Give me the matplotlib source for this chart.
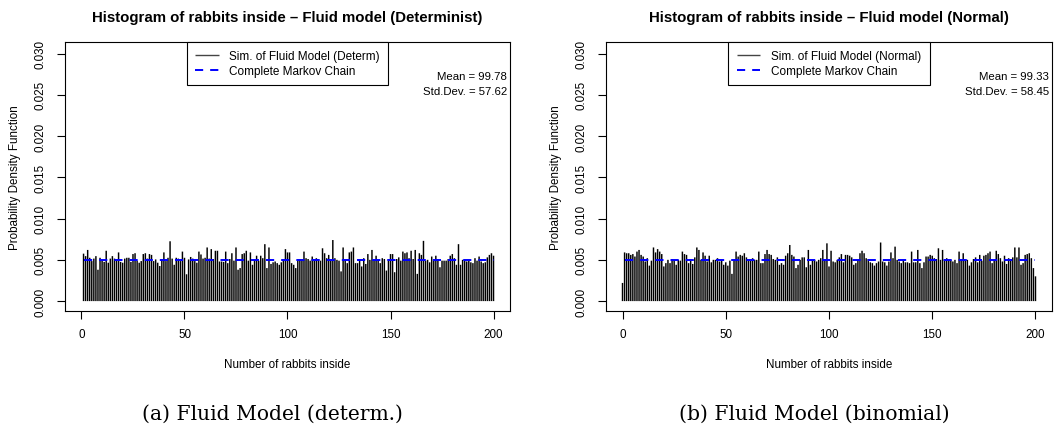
#!/usr/bin/env python3
"""Histogram of rabbits inside: fluid model vs complete Markov chain (two panels)."""

import matplotlib

matplotlib.use("Agg")
import matplotlib.pyplot as plt  # noqa: E402

# ---- data (probability density, in units of 1e-3) ----
RABBITS = list(range(0, 201))

DETERM_PDF = [
    0.0, 5.75, 5.45, 6.2, 5.25, 4.85, 5.15, 5.45, 3.8, 5.25,
    4.95, 4.75, 6.1, 4.65, 5.15, 5.45, 5.15, 5.05, 5.9, 4.75,
    4.65, 5.15, 5.25, 5.25, 4.75, 5.7, 5.8, 4.9, 4.65, 4.85,
    5.7, 5.8, 5.15, 5.7, 5.6, 4.85, 5.05, 4.65, 4.25, 5.05,
    5.9, 4.85, 5.25, 7.25, 5.15, 4.4, 5.25, 5.15, 4.85, 6.0,
    5.25, 3.25, 5.05, 5.35, 5.15, 4.85, 4.65, 6.0, 5.65, 5.15,
    5.25, 6.5, 5.15, 6.3, 5.1, 6.1, 6.1, 4.8, 4.8, 4.75,
    6.0, 4.6, 5.1, 5.8, 4.9, 6.5, 3.8, 4.0, 5.7, 5.8,
    6.1, 4.9, 5.9, 4.4, 5.0, 5.5, 4.9, 5.5, 5.2, 6.9,
    4.0, 6.5, 4.5, 4.7, 4.8, 4.6, 4.4, 4.7, 5.0, 6.3,
    5.9, 5.9, 4.6, 4.4, 4.0, 4.9, 5.0, 5.0, 6.0, 5.2,
    5.1, 4.9, 5.4, 4.9, 5.2, 5.1, 4.9, 6.4, 5.8, 5.2,
    5.6, 4.9, 7.4, 5.2, 5.0, 4.9, 3.6, 6.5, 5.0, 4.6,
    5.9, 6.0, 6.5, 4.6, 4.6, 5.0, 4.2, 5.2, 4.5, 5.7,
    5.0, 6.2, 5.0, 5.5, 5.0, 4.6, 5.2, 5.1, 3.7, 5.1,
    5.7, 5.7, 3.5, 5.1, 5.3, 4.9, 6.0, 5.8, 5.9, 5.2,
    6.1, 5.1, 6.2, 3.3, 5.8, 5.6, 7.3, 4.9, 5.0, 4.7,
    5.4, 4.9, 5.5, 5.1, 4.1, 4.9, 4.9, 4.9, 5.1, 5.5,
    5.7, 5.2, 4.4, 6.9, 4.4, 5.0, 5.0, 4.8, 4.9, 4.7,
    4.6, 5.2, 4.9, 5.4, 4.8, 4.6, 4.7, 5.3, 5.6, 5.8,
    5.5,
]

NORMAL_PDF = [
    2.2, 5.9, 5.8, 5.8, 5.6, 5.7, 5.4, 6.0, 6.2, 5.6,
    5.4, 4.8, 5.2, 4.3, 4.9, 6.5, 5.9, 6.3, 6.0, 5.7,
    4.2, 4.6, 5.0, 4.6, 5.1, 5.0, 4.4, 5.0, 4.9, 6.0,
    5.7, 5.6, 4.6, 4.9, 4.5, 5.3, 6.5, 6.2, 5.0, 5.9,
    5.5, 4.8, 5.5, 4.7, 5.0, 5.0, 5.2, 4.8, 5.0, 4.4,
    4.7, 4.3, 4.9, 3.3, 5.0, 6.0, 5.4, 5.6, 5.5, 5.8,
    5.3, 5.0, 4.9, 5.2, 5.0, 5.0, 6.0, 4.6, 4.6, 5.7,
    6.2, 5.7, 5.6, 5.1, 5.0, 5.3, 4.4, 4.6, 4.4, 5.5,
    5.8, 6.8, 5.6, 5.4, 4.0, 4.4, 5.0, 5.3, 5.3, 4.1,
    6.2, 4.4, 5.0, 5.0, 4.8, 5.0, 5.2, 6.2, 5.1, 7.0,
    4.2, 6.1, 4.8, 4.7, 5.0, 5.3, 5.7, 4.7, 5.6, 5.6,
    5.5, 5.3, 4.4, 4.6, 5.0, 5.8, 6.1, 5.8, 5.2, 5.1,
    4.7, 4.6, 4.3, 4.6, 4.8, 7.1, 4.8, 4.7, 4.3, 4.8,
    5.9, 5.2, 6.6, 5.0, 4.8, 4.6, 4.9, 4.7, 4.7, 4.6,
    6.0, 4.7, 4.7, 6.2, 4.6, 4.0, 4.7, 5.4, 5.4, 5.6,
    5.5, 5.2, 5.1, 6.4, 5.0, 6.2, 5.1, 5.2, 5.0, 5.0,
    4.8, 5.0, 4.6, 6.0, 5.0, 5.8, 5.0, 5.0, 4.3, 4.7,
    5.1, 5.3, 4.7, 5.6, 4.9, 5.5, 5.6, 5.8, 6.0, 4.6,
    5.0, 6.1, 5.7, 5.2, 4.8, 5.5, 4.5, 5.2, 5.1, 5.3,
    6.5, 5.3, 6.5, 4.4, 4.6, 5.6, 5.7, 5.8, 5.2, 4.0,
    3.0,
]

MARKOV_LEVEL = 4.975  # complete Markov chain, flat at ~1/201
MARKOV_RANGE = (1, 200)

TITLES = [
    "Histogram of rabbits inside \u2013 Fluid model (Determinist)",
    "Histogram of rabbits inside \u2013 Fluid model (Normal)",
]
SIM_LABELS = ["Sim. of Fluid Model (Determ)", "Sim. of Fluid Model (Normal)"]
MEANS = ["99.78", "99.33"]
STDS = ["57.62", "58.45"]
CAPTIONS = ["(a) Fluid Model (determ.)", "(b) Fluid Model (binomial)"]
X_TICKS = [0, 50, 100, 150, 200]
Y_TICKS = [0.000, 0.005, 0.010, 0.015, 0.020, 0.025, 0.030]

assert len(DETERM_PDF) == len(RABBITS) and len(NORMAL_PDF) == len(RABBITS)

W, H = 1054, 427
# axes boxes in pixels: (left, top, right, bottom)
BOXES = [(65, 43, 510, 312), (606, 43, 1052, 312)]
YLABEL_X = [15, 556]
CAPTION_X = [272, 814]
FS = 8.4


def main() -> None:
    plt.rcParams.update(
        {
            "font.family": ["Liberation Sans", "DejaVu Sans"],
            "font.size": FS,
            "axes.linewidth": 0.8,
        }
    )
    fig = plt.figure(figsize=(W / 100, H / 100), dpi=100)

    for i, pdf in enumerate([DETERM_PDF, NORMAL_PDF]):
        l, t, r, b = BOXES[i]
        ax = fig.add_axes([l / W, 1 - b / H, (r - l) / W, (b - t) / H])
        ys = [v * 1e-3 for v in pdf]
        bars = ax.vlines(RABBITS, 0, ys, colors="black", linewidth=1.05,
                         label=SIM_LABELS[i])
        bars.set_snap(False)
        ax.hlines(MARKOV_LEVEL * 1e-3, *MARKOV_RANGE, colors="blue",
                  linewidth=1.4, linestyles=(0, (4.2, 3.6)),
                  label="Complete Markov Chain")

        ax.set_xlim(-8, 208)
        ax.set_ylim(-0.0012, 0.0314)
        ax.set_xticks(X_TICKS)
        ax.set_yticks(Y_TICKS)
        ax.set_yticklabels([f"{v:.3f}" for v in Y_TICKS], rotation=90,
                           va="center")
        ax.tick_params(direction="out", length=5.5, width=0.8, pad=6.5,
                       labelsize=FS)
        ax.tick_params(axis="y", pad=7.5)

        ax.set_title(TITLES[i], fontsize=10.8, fontweight="bold", pad=15)
        ax.set_xlabel("Number of rabbits inside", fontsize=FS)
        ax.xaxis.set_label_coords(0.5, -(365 - b) / (b - t))
        ax.xaxis.label.set_va("center")
        ax.set_ylabel("Probability Density Function", fontsize=FS)
        ax.yaxis.set_label_coords(-(l - YLABEL_X[i]) / (r - l), 0.5)
        ax.yaxis.label.set_va("center")

        leg = ax.legend(loc="upper center", bbox_to_anchor=(0.5, 1.0),
                        borderaxespad=0, fancybox=False, framealpha=1,
                        edgecolor="black", fontsize=8.5, handlelength=2.0,
                        handletextpad=0.9, borderpad=0.7, labelspacing=0.25)
        leg.get_frame().set_linewidth(0.8)
        leg.legend_handles[0].set_color("#444444")
        leg.legend_handles[0].set_linewidth(1.0)

        ax.text(0.993, 1 - (77 - t) / (b - t), f"Mean = {MEANS[i]}",
                transform=ax.transAxes, ha="right", va="center", fontsize=8.2)
        ax.text(0.993, 1 - (92 - t) / (b - t), f"Std.Dev. = {STDS[i]}",
                transform=ax.transAxes, ha="right", va="center", fontsize=8.2)

        fig.text(CAPTION_X[i] / W, 1 - 414 / H, CAPTIONS[i],
                 ha="center", va="center", fontsize=14.6,
                 family=["DejaVu Serif"])

    fig.savefig("out.png", dpi=100)
    plt.close(fig)


if __name__ == "__main__":
    main()
